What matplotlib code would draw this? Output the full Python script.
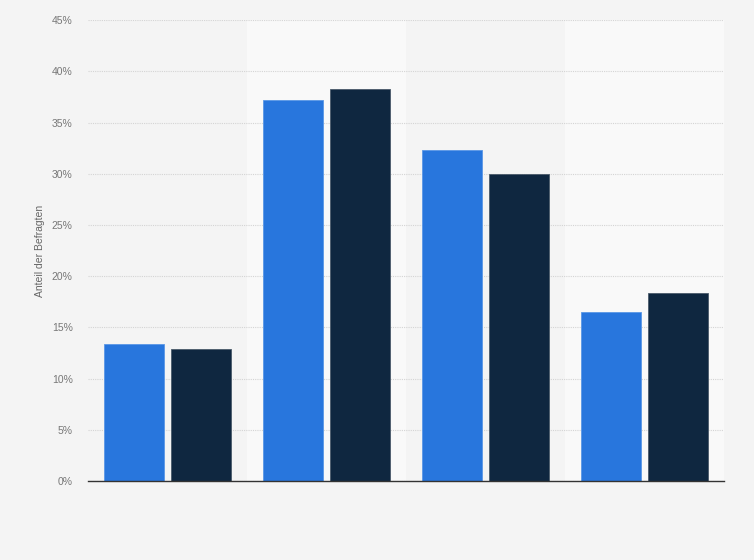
import numpy as np
import matplotlib.pyplot as plt

plt.rcParams['font.family'] = ['Liberation Sans', 'DejaVu Sans']

# data (percent)
categories = ["A", "B", "C", "D"]
series_1 = [13.4, 37.2, 32.3, 16.5]
series_2 = [12.9, 38.3, 30.0, 18.4]
y_ticks = [0, 5, 10, 15, 20, 25, 30, 35, 40, 45]

blue = "#2876dd"
navy = "#0f2740"
bg = "#f4f4f4"

fig = plt.figure(figsize=(7.54, 5.6), dpi=100, facecolor=bg)
ax = fig.add_axes([0.1167, 0.141, 0.8435, 0.823])
ax.set_facecolor(bg)

x = np.arange(len(categories))
w = 0.377
ax.bar(x - 0.21, series_1, w, color=blue, edgecolor="#5a97e6", linewidth=0.6, zorder=3)
ax.bar(x + 0.21, series_2, w, color=navy, edgecolor="#4a5a6a", linewidth=0.6, zorder=3)

# alternating background bands
for i in range(len(categories)):
    if i % 2 == 1:
        ax.axvspan(i - 0.5, i + 0.5, color="#f9f9f9", zorder=0, lw=0)

ax.set_xlim(-0.5, len(categories) - 0.5)
ax.set_ylim(0, 45)
ax.set_yticks(y_ticks)
ax.set_yticklabels([f"{t}%" for t in y_ticks])
ax.set_xticks([])
ax.yaxis.grid(True, color="#d4d4d4", linestyle=(0, (1, 1)), linewidth=0.8, zorder=1)
ax.tick_params(axis="y", length=0, pad=11, labelsize=7.5, labelcolor="#777777")

for s in ["top", "right", "left"]:
    ax.spines[s].set_visible(False)
ax.spines["bottom"].set_color("#333333")
ax.spines["bottom"].set_linewidth(1.0)
ax.spines["bottom"].set_zorder(4)

ax.set_ylabel("Anteil der Befragten", fontsize=7.5, color="#666666", labelpad=5)

fig.savefig("out.png", dpi=100, facecolor=bg)
